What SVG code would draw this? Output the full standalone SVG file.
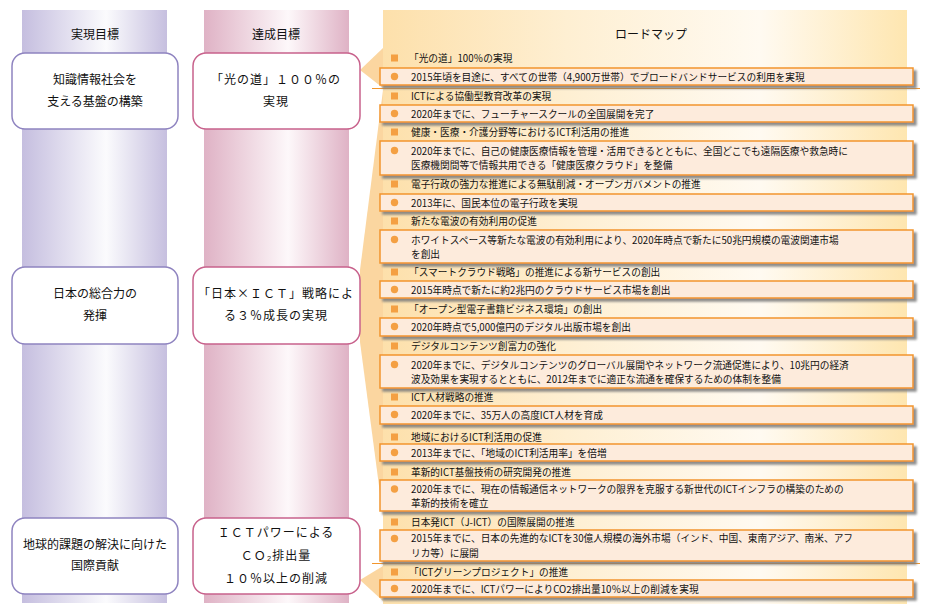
<svg xmlns="http://www.w3.org/2000/svg" width="932" height="616" viewBox="0 0 932 616">
<defs>
<linearGradient id="gL" x1="0" x2="1" y1="0" y2="0"><stop offset="0" stop-color="#c5bedf"/><stop offset="0.58" stop-color="#fbfbfd"/><stop offset="1" stop-color="#c6bfdf"/></linearGradient>
<linearGradient id="gM" x1="0" x2="1" y1="0" y2="0"><stop offset="0" stop-color="#dfb2c5"/><stop offset="0.58" stop-color="#fdf8fa"/><stop offset="1" stop-color="#dfb2c5"/></linearGradient>
<linearGradient id="gR" x1="0" x2="1" y1="0" y2="0"><stop offset="0" stop-color="#fde0ab"/><stop offset="0.35" stop-color="#feefd2"/><stop offset="0.72" stop-color="#fffaf1"/><stop offset="1" stop-color="#fee6b0"/></linearGradient>
<filter id="sh" x="-5%" y="-30%" width="110%" height="180%"><feDropShadow dx="3" dy="3" stdDeviation="1.3" flood-color="#7a7a7a" flood-opacity="0.85"/></filter>
</defs>
<style>
text{font-family:"Noto Sans CJK JP","Noto Sans CJK SC",sans-serif;fill:#111;dominant-baseline:central}
.hd{font-size:12px}
.nt{font-size:12px;text-anchor:middle}
.ntL{letter-spacing:0}
.ntM{letter-spacing:1px}
.it{font-size:9.7px}
.nL{fill:#fff;stroke:#8f84c0;stroke-width:1.5}
.nM{fill:#fff;stroke:#c8628c;stroke-width:1.5}
.bx{fill:#fdebdc;stroke:#f2952c;stroke-width:1.5;filter:url(#sh)}
.sq{fill:#f4a043}
.dot{fill:#f4a043}
.ptr{fill:#fbd6a0}
.sep{stroke:#f2952c;stroke-width:1.2}
</style>
<rect x="22" y="10" width="145" height="593" fill="url(#gL)"/>
<rect x="204" y="10" width="145" height="593" fill="url(#gM)"/>
<rect x="383" y="10" width="524" height="594" fill="url(#gR)"/>
<text class="hd" x="95" y="33" text-anchor="middle">実現目標</text>
<text class="hd" x="276" y="33" text-anchor="middle">達成目標</text>
<text class="hd" x="651" y="33" text-anchor="middle">ロードマップ</text>
<g id="connectors">
<polygon class="ptr" points="360,70 383,48 383,88"/>
<polygon class="ptr" points="383,90 360,270 360,342 383,516"/>
<polygon class="ptr" points="360,580 383,566 383,601"/>
<line class="sep" x1="372" y1="88.5" x2="920" y2="88.5"/>
<line class="sep" x1="372" y1="563.5" x2="920" y2="563.5"/>
</g>
<g id="goal1"><rect class="nL" x="12" y="53" width="166" height="76" rx="13"/><text class="nt ntL" x="95" y="78">知識情報社会を</text><text class="nt ntL" x="95" y="100">支える基盤の構築</text></g>
<g id="goal2"><rect class="nL" x="12" y="267" width="166" height="77" rx="13"/><text class="nt ntL" x="95" y="292">日本の総合力の</text><text class="nt ntL" x="95" y="314">発揮</text></g>
<g id="goal3"><rect class="nL" x="12" y="518" width="166" height="76" rx="13"/><text class="nt ntL" x="95" y="543">地球的課題の解決に向けた</text><text class="nt ntL" x="95" y="564">国際貢献</text></g>
<g id="target1"><rect class="nM" x="193" y="53" width="167" height="76" rx="13"/><text class="nt ntM" x="276" y="78">「光の道」１００％の</text><text class="nt ntM" x="276" y="100">実現</text></g>
<g id="target2"><rect class="nM" x="193" y="267" width="167" height="77" rx="13"/><text class="nt ntM" x="276" y="292">「日本×ＩＣＴ」戦略によ</text><text class="nt ntM" x="276" y="314">る３％成長の実現</text></g>
<g id="target3"><rect class="nM" x="193" y="518" width="167" height="76" rx="13"/><text class="nt ntM" x="276" y="531">ＩＣＴパワーによる</text><text class="nt ntM" x="276" y="554">ＣＯ₂排出量</text><text class="nt ntM" x="276" y="577">１０％以上の削減</text></g>
<g id="roadmap">
<g id="r1"><rect class="sq" x="391" y="54.5" width="7" height="7"/><text class="it" x="409" y="58">「光の道」100％の実現</text></g>
<g id="r2"><rect class="bx" x="380" y="68" width="533" height="17"/><circle class="dot" cx="394.5" cy="76.5" r="3.7"/><text class="it" x="411" y="77">2015年頃を目途に、すべての世帯（4,900万世帯）でブロードバンドサービスの利用を実現</text></g>
<g id="r3"><rect class="sq" x="391" y="92.5" width="7" height="7"/><text class="it" x="411" y="96">ICTによる協働型教育改革の実現</text></g>
<g id="r4"><rect class="bx" x="380" y="105" width="533" height="17"/><circle class="dot" cx="394.5" cy="113.5" r="3.7"/><text class="it" x="411" y="114">2020年までに、フューチャースクールの全国展開を完了</text></g>
<g id="r5"><rect class="sq" x="391" y="128.5" width="7" height="7"/><text class="it" x="411" y="132">健康・医療・介護分野等におけるICT利活用の推進</text></g>
<g id="r6"><rect class="bx" x="380" y="141" width="533" height="34"/><circle class="dot" cx="394.5" cy="150.5" r="3.7"/><text class="it" x="411" y="151">2020年までに、自己の健康医療情報を管理・活用できるとともに、全国どこでも遠隔医療や救急時に</text><text class="it" x="411" y="165">医療機関間等で情報共用できる「健康医療クラウド」を整備</text></g>
<g id="r7"><rect class="sq" x="391" y="180.5" width="7" height="7"/><text class="it" x="411" y="184">電子行政の強力な推進による無駄削減・オープンガバメントの推進</text></g>
<g id="r8"><rect class="bx" x="380" y="194" width="533" height="17"/><circle class="dot" cx="394.5" cy="202.5" r="3.7"/><text class="it" x="411" y="203">2013年に、国民本位の電子行政を実現</text></g>
<g id="r9"><rect class="sq" x="391" y="217.5" width="7" height="7"/><text class="it" x="411" y="221">新たな電波の有効利用の促進</text></g>
<g id="r10"><rect class="bx" x="380" y="230" width="533" height="33"/><circle class="dot" cx="394.5" cy="239.5" r="3.7"/><text class="it" x="411" y="240">ホワイトスペース等新たな電波の有効利用により、2020年時点で新たに50兆円規模の電波関連市場</text><text class="it" x="411" y="254">を創出</text></g>
<g id="r11"><rect class="sq" x="391" y="268.5" width="7" height="7"/><text class="it" x="409" y="272">「スマートクラウド戦略」の推進による新サービスの創出</text></g>
<g id="r12"><rect class="bx" x="380" y="281" width="533" height="17"/><circle class="dot" cx="394.5" cy="289.5" r="3.7"/><text class="it" x="411" y="290">2015年時点で新たに約2兆円のクラウドサービス市場を創出</text></g>
<g id="r13"><rect class="sq" x="391" y="305.5" width="7" height="7"/><text class="it" x="409" y="309">「オープン型電子書籍ビジネス環境」の創出</text></g>
<g id="r14"><rect class="bx" x="380" y="318" width="533" height="18"/><circle class="dot" cx="394.5" cy="326.5" r="3.7"/><text class="it" x="411" y="327">2020年時点で5,000億円のデジタル出版市場を創出</text></g>
<g id="r15"><rect class="sq" x="391" y="342.5" width="7" height="7"/><text class="it" x="411" y="346">デジタルコンテンツ創富力の強化</text></g>
<g id="r16"><rect class="bx" x="380" y="355" width="533" height="33"/><circle class="dot" cx="394.5" cy="364.5" r="3.7"/><text class="it" x="411" y="365">2020年までに、デジタルコンテンツのグローバル展開やネットワーク流通促進により、10兆円の経済</text><text class="it" x="411" y="379">波及効果を実現するとともに、2012年までに適正な流通を確保するための体制を整備</text></g>
<g id="r17"><rect class="sq" x="391" y="393.5" width="7" height="7"/><text class="it" x="411" y="397">ICT人材戦略の推進</text></g>
<g id="r18"><rect class="bx" x="380" y="406" width="533" height="18"/><circle class="dot" cx="394.5" cy="414.5" r="3.7"/><text class="it" x="411" y="415">2020年までに、35万人の高度ICT人材を育成</text></g>
<g id="r19"><rect class="sq" x="391" y="433.5" width="7" height="7"/><text class="it" x="411" y="437">地域におけるICT利活用の促進</text></g>
<g id="r20"><rect class="bx" x="380" y="444" width="533" height="17"/><circle class="dot" cx="394.5" cy="452.5" r="3.7"/><text class="it" x="411" y="453">2013年までに、「地域のICT利活用率」を倍増</text></g>
<g id="r21"><rect class="sq" x="391" y="468.5" width="7" height="7"/><text class="it" x="411" y="472">革新的ICT基盤技術の研究開発の推進</text></g>
<g id="r22"><rect class="bx" x="380" y="480" width="533" height="31"/><circle class="dot" cx="394.5" cy="489" r="3.7"/><text class="it" x="411" y="489">2020年までに、現在の情報通信ネットワークの限界を克服する新世代のICTインフラの構築のための</text><text class="it" x="411" y="503">革新的技術を確立</text></g>
<g id="r23"><rect class="sq" x="391" y="518.5" width="7" height="7"/><text class="it" x="411" y="522">日本発ICT（J-ICT）の国際展開の推進</text></g>
<g id="r24"><rect class="bx" x="380" y="530" width="533" height="31"/><circle class="dot" cx="394.5" cy="538.5" r="3.7"/><text class="it" x="411" y="538">2015年までに、日本の先進的なICTを30億人規模の海外市場（インド、中国、東南アジア、南米、アフ</text><text class="it" x="411" y="553">リカ等）に展開</text></g>
<g id="r25"><rect class="sq" x="391" y="568.5" width="7" height="7"/><text class="it" x="409" y="572">「ICTグリーンプロジェクト」の推進</text></g>
<g id="r26"><rect class="bx" x="380" y="580" width="533" height="17"/><circle class="dot" cx="394.5" cy="588.5" r="3.7"/><text class="it" x="411" y="589">2020年までに、ICTパワーによりCO2排出量10％以上の削減を実現</text></g>
</g>
</svg>
